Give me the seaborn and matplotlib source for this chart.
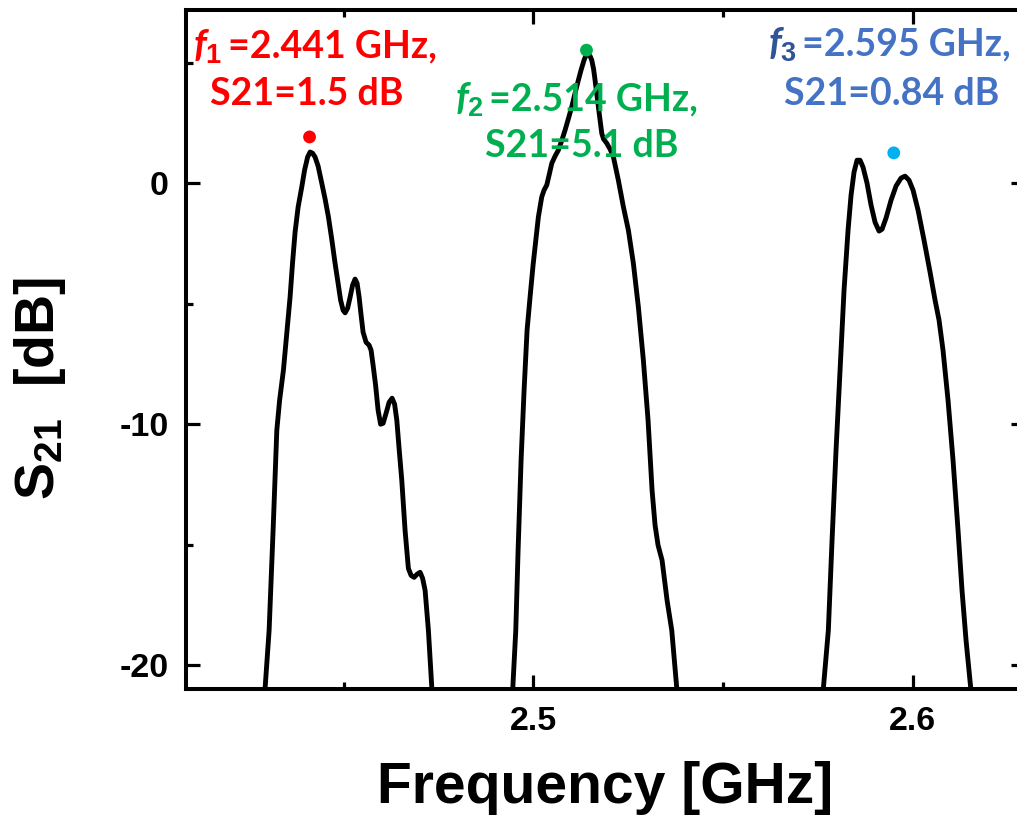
import numpy as np
import pandas as pd
import matplotlib
matplotlib.use("Agg")
import matplotlib.pyplot as plt
import matplotlib.transforms as mtransforms
from matplotlib.ticker import MultipleLocator
import seaborn as sns

# ---- measured transmission, one trace per passband ----
band1_freq = [2.42849, 2.42928, 2.43034, 2.43139, 2.43237, 2.43311, 2.43411, 2.43495,
              2.43587, 2.43653, 2.43719, 2.43798, 2.43896, 2.43969, 2.44049, 2.44114,
              2.44180, 2.44246, 2.44325, 2.44423, 2.44510, 2.44597, 2.44681, 2.44773,
              2.44852, 2.44918, 2.44984, 2.45037, 2.45103, 2.45169, 2.45235, 2.45300,
              2.45353, 2.45406, 2.45459, 2.45511, 2.45590, 2.45670, 2.45722, 2.45775,
              2.45841, 2.45907, 2.45973, 2.46039, 2.46118, 2.46197, 2.46276, 2.46342,
              2.46400, 2.46460, 2.46531, 2.46618, 2.46705, 2.46777, 2.46856, 2.46935,
              2.47014, 2.47080, 2.47146, 2.47233, 2.47322, 2.47356]
band1_s21 = [-21.45, -20.95, -18.55, -14.40, -10.25, -9.00, -7.76, -6.31,
             -4.72, -3.28, -2.03, -1.00, -0.15, 0.54, 1.08, 1.29,
             1.24, 1.08, 0.71, -0.01, -0.66, -1.40, -2.28, -3.33,
             -4.15, -4.85, -5.27, -5.38, -5.19, -4.73, -4.23, -3.98,
             -4.15, -4.72, -5.48, -6.18, -6.60, -6.72, -6.93, -7.55,
             -8.38, -9.42, -10.00, -9.96, -9.54, -9.09, -8.92, -9.17,
             -9.83, -11.00, -12.32, -14.40, -15.98, -16.27, -16.35, -16.22,
             -16.14, -16.39, -16.89, -18.55, -20.91, -21.45]

band2_freq = [2.49412, 2.49457, 2.49536, 2.49597, 2.49676, 2.49755, 2.49834, 2.49913,
              2.49992, 2.50045, 2.50132, 2.50221, 2.50282, 2.50353, 2.50414, 2.50485,
              2.50572, 2.50659, 2.50743, 2.50836, 2.50928, 2.51012, 2.51099, 2.51186,
              2.51257, 2.51336, 2.51389, 2.51442, 2.51494, 2.51539, 2.51587, 2.51626,
              2.51713, 2.51803, 2.51850, 2.51935, 2.52022, 2.52109, 2.52240, 2.52372,
              2.52504, 2.52636, 2.52767, 2.52899, 2.53023, 2.53129, 2.53208, 2.53287,
              2.53392, 2.53524, 2.53648, 2.53780, 2.53814]
band2_s21 = [-21.45, -20.95, -18.55, -15.23, -11.49, -8.59, -6.10, -4.72,
             -3.40, -2.64, -1.40, -0.57, -0.29, -0.08, 0.33, 0.82,
             1.12, 1.37, 1.74, 2.20, 2.70, 3.17, 3.73, 4.27,
             4.69, 5.10, 5.31, 5.35, 5.27, 5.10, 4.73, 4.27,
             3.17, 2.06, 1.83, 1.65, 1.41, 1.09, 0.12, -0.98,
             -1.95, -3.33, -5.13, -7.34, -9.83, -12.74, -14.19, -15.02,
             -15.64, -17.30, -18.55, -20.95, -21.45]

band3_freq = [2.57609, 2.57644, 2.57775, 2.57873, 2.57978, 2.58084, 2.58189, 2.58295,
              2.58374, 2.58453, 2.58532, 2.58611, 2.58690, 2.58795, 2.58901, 2.59006,
              2.59112, 2.59191, 2.59296, 2.59428, 2.59560, 2.59692, 2.59797, 2.59902,
              2.60008, 2.60140, 2.60298, 2.60456, 2.60588, 2.60693, 2.60798, 2.60930,
              2.61062, 2.61194, 2.61299, 2.61405, 2.61529, 2.61563]
band3_s21 = [-21.45, -20.95, -18.55, -14.81, -11.08, -7.76, -4.44, -1.95,
             -0.50, 0.46, 0.95, 0.95, 0.66, 0.00, -0.91, -1.62,
             -1.99, -1.91, -1.45, -0.71, -0.12, 0.21, 0.29, 0.12,
             -0.29, -1.12, -2.37, -3.69, -4.85, -5.68, -6.93, -9.00,
             -11.49, -14.40, -16.89, -18.96, -20.95, -21.45]

# ---- passband centres and their insertion values ----
peak_freq = [2.441, 2.514, 2.595]
peak_s21 = [1.5, 5.1, 0.84]
peak_index = ["1", "2", "3"]
text_colors = ["#FF0000", "#00B050", "#4472C4"]
symbol_colors = ["#FF0000", "#00B050", "#2F5597"]
dot_colors = ["#FF0000", "#00B050", "#00B0F0"]

x_major = [2.5, 2.6]
y_major = [-20, -10, 0]

# ---- style ----
sns.set_theme(style="ticks")
plt.rcParams["font.family"] = ["Liberation Sans", "DejaVu Sans"]
plt.rcParams["font.weight"] = "bold"
plt.rcParams["text.color"] = "black"
plt.rcParams["axes.labelcolor"] = "black"
plt.rcParams["xtick.color"] = "black"
plt.rcParams["ytick.color"] = "black"
plt.rcParams["mathtext.fontset"] = "custom"
plt.rcParams["mathtext.it"] = "Lato:bold:italic"
plt.rcParams["mathtext.bf"] = "Liberation Sans:bold"
plt.rcParams["mathtext.rm"] = "Liberation Sans:bold"

df = pd.concat([
    pd.DataFrame({"freq": band1_freq, "s21": band1_s21, "band": 1}),
    pd.DataFrame({"freq": band2_freq, "s21": band2_s21, "band": 2}),
    pd.DataFrame({"freq": band3_freq, "s21": band3_s21, "band": 3}),
], ignore_index=True)

fig = plt.figure(figsize=(10.17, 8.27), dpi=100)
ax = fig.add_axes([0.1824, 0.1663, 0.8255, 0.8222])

sns.lineplot(data=df, x="freq", y="s21", units="band", estimator=None, sort=False,
             color="black", linewidth=3.5, ax=ax, legend=False,
             solid_joinstyle="round", solid_capstyle="round")

ax.set_xlim(2.4083, 2.6296)
ax.set_ylim(-21.0, 7.2)

ax.xaxis.set_major_locator(MultipleLocator(0.1))
ax.xaxis.set_minor_locator(MultipleLocator(0.05))
ax.yaxis.set_major_locator(MultipleLocator(10))
ax.yaxis.set_minor_locator(MultipleLocator(5))
ax.set_xticks(x_major)
ax.set_xticklabels([f"{v:g}" for v in x_major])
ax.set_yticks(y_major)
ax.set_yticklabels([f"{v:g}" for v in y_major])

for side in ["left", "right", "top", "bottom"]:
    ax.spines[side].set_visible(True)
    ax.spines[side].set_linewidth(2.9)
    ax.spines[side].set_color("black")

ax.tick_params(which="both", direction="in", top=True, right=True,
               color="black", labelcolor="black", width=2.3)
ax.tick_params(which="major", length=10, labelsize=24.5, pad=12)
ax.tick_params(which="minor", length=5)
for lab in ax.get_xticklabels() + ax.get_yticklabels():
    lab.set_fontweight("bold")

ax.set_xlabel("Frequency [GHz]", fontsize=41, fontweight="bold", color="black")
ax.set_ylabel(r"$\mathbf{S}_{\mathbf{21}}$  [dB]", fontsize=40, fontweight="bold",
              color="black")
ax.xaxis.set_label_coords(0.5, -0.105)
ax.yaxis.set_label_coords(-0.14, 0.443)

# peak markers sit just above the trace maxima
dot_tf = mtransforms.offset_copy(ax.transData, fig=fig, x=0, y=10, units="dots")
ax.scatter(peak_freq, peak_s21, s=85, c=dot_colors, transform=dot_tf,
           zorder=5, linewidths=0, clip_on=False)

# annotation text blocks: (symbol right edge, value left edge, baseline 1, centre 2, baseline 2)
label_pos = [
    (2.41795, 2.41953, 5.23, 2.44035, 3.24),
    (2.48701, 2.48832, 3.03, 2.51284, 1.08),
    (2.56950, 2.57082, 5.31, 2.59454, 3.24),
]
ann_font = ["Lato", "DejaVu Sans"]
for f, s, idx, tc, sc, pos in zip(peak_freq, peak_s21, peak_index,
                                  text_colors, symbol_colors, label_pos):
    xr, xl, yb1, xc2, yb2 = pos
    ax.text(xr, yb1, rf"$\mathit{{f_{idx}}}$", color=sc, fontsize=28,
            family=ann_font, weight="bold", ha="right", va="baseline")
    ax.text(xl, yb1, f"={f:.3f} GHz,", color=tc, fontsize=27,
            family=ann_font, weight="bold", ha="left", va="baseline")
    ax.text(xc2, yb2, f"S21={s:g} dB", color=tc, fontsize=27,
            family=ann_font, weight="bold", ha="center", va="baseline")

fig.savefig("out.png", dpi=100)
